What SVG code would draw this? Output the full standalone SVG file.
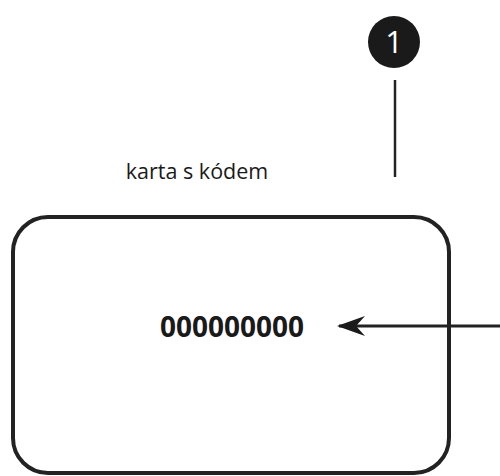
<svg xmlns="http://www.w3.org/2000/svg" width="500" height="476" viewBox="0 0 500 476">
<style>
.stroke{stroke:#222;fill:none}
.lbl{font-family:"Open Sans","Liberation Sans",sans-serif;fill:#1a1a1a}
</style>
<defs>
<marker id="ah" markerUnits="userSpaceOnUse" markerWidth="30" markerHeight="24" refX="27" refY="12" orient="auto" viewBox="0 0 30 24">
<path d="M29,12 L1,2 L10,12 L1,22 Z" fill="#1a1a1a"/>
</marker>
</defs>
<rect width="500" height="476" fill="#fff"/>
<g id="card">
<rect class="stroke" x="13" y="217" width="436" height="256" rx="35" ry="35" stroke-width="4"/>
<text class="lbl" x="232" y="337" font-size="28" font-weight="bold" text-anchor="middle">000000000</text>
</g>
<g id="label">
<text class="lbl" x="197" y="179" font-size="21.5" text-anchor="middle">karta s kódem</text>
</g>
<g id="badge">
<circle cx="394" cy="42" r="26" fill="#1a1a1a"/>
<text x="394" y="53" font-family="Open Sans,Liberation Sans,sans-serif" font-size="31" fill="#fff" text-anchor="middle">1</text>
</g>
<g id="connectors">
<line class="stroke" x1="395" y1="80" x2="395" y2="177" stroke-width="2.5"/>
<line class="stroke" x1="500" y1="326" x2="339" y2="326" stroke-width="3" marker-end="url(#ah)"/>
</g>
</svg>
